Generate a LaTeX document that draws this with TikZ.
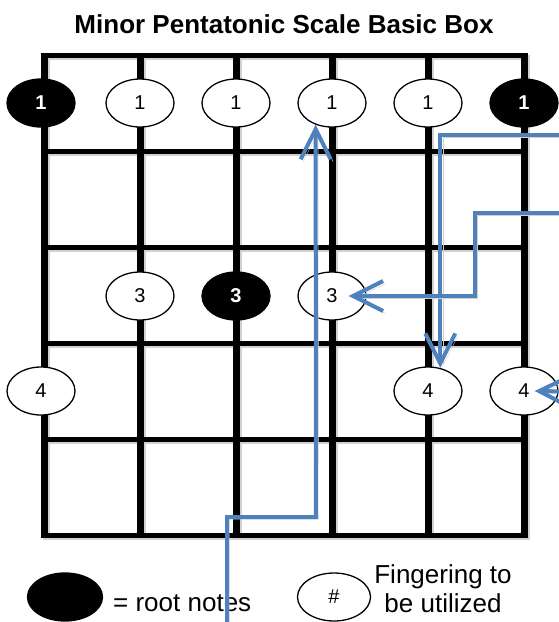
\documentclass[tikz,border=0pt]{standalone}
\usepackage{fontspec}
\setmainfont{Liberation Sans}
\usetikzlibrary{arrows.meta,shapes.geometric}
\definecolor{arrowblue}{HTML}{4F81BD}
\begin{document}
\begin{tikzpicture}[x=1pt,y=-1pt,
  note/.style={ellipse,draw=black,line width=1.3pt,fill=white,minimum width=68pt,minimum height=48pt,inner sep=0pt,font=\fontsize{20}{24}\selectfont},
  rootnote/.style={note,fill=black,text=white,font=\fontsize{20}{24}\selectfont\bfseries},
  strline/.style={line width=7pt},
  fretline/.style={line width=5pt},
  label/.style={inner sep=0pt,font=\fontsize{26}{29}\selectfont},
  guide/.style={draw=arrowblue,line width=4pt,-{Straight Barb[length=30pt,width=30pt]},
    preaction={draw=black!18,transform canvas={xshift=2.5pt,yshift=-2.5pt}}},
]
\useasboundingbox (0,0) rectangle (558,622);
\fill[white] (0,0) rectangle (558,622);

% grid shadow
\begin{scope}[draw=black!18,transform canvas={xshift=2.5pt,yshift=-2.5pt}]
  \foreach \x in {44,140,236,332,428,524} \draw[strline,black!18] (\x,52.5) -- (\x,537.5);
  \foreach \y in {55,151,247,343,439,535} \draw[fretline,black!18] (40.5,\y) -- (527.5,\y);
\end{scope}
% grid
\foreach \x in {44,140,236,332,428,524} \draw[strline] (\x,52.5) -- (\x,537.5);
\foreach \y in {55,151,247,343,439,535} \draw[fretline] (40.5,\y) -- (527.5,\y);

% title
\node[label,font=\fontsize{26}{30}\selectfont\bfseries,anchor=base] (title) at (284,33) {Minor Pentatonic Scale Basic Box};

% notes
\node[rootnote] (r1c1) at (41,103) {1};
\node[note] (r1c2) at (140,103) {1};
\node[note] (r1c3) at (236,103) {1};
\node[note] (r1c4) at (332,103) {1};
\node[note] (r1c5) at (428,103) {1};
\node[rootnote] (r1c6) at (524,103) {1};
\node[note] (r3c2) at (140,296) {3};
\node[rootnote] (r3c3) at (236,296) {3};
\node[note] (r3c4) at (332,296) {3};
\node[note] (r4c1) at (41,391) {4};
\node[note] (r4c5) at (428,391) {4};
\node[note] (r4c6) at (524,391) {4};

% legend
\node[rootnote,minimum width=75pt] (lroot) at (65,597) {};
\node[label,anchor=base west] (lroottxt) at (113,611) {= root notes};
\node[note,minimum width=73pt] (lnote) at (334,597) {\#};
\node[label,anchor=base] (lnotetxt1) at (443,583) {Fingering to};
\node[label,anchor=base] (lnotetxt2) at (443,612) {be utilized};

% arrows
\coordinate (a1s) at (227,632);
\coordinate (a1k) at (316,517);
\draw[guide] (a1s) |- (a1k) -- (r1c4.233);
\coordinate (a2s) at (600,135);
\draw[guide] (a2s) -| (r4c5.62);
\coordinate (a3s) at (600,213);
\coordinate (a3k) at (475,213);
\draw[guide] (a3s) -- (a3k) |- ([xshift=-18pt]r3c4.east);
\coordinate (a4s) at (600,392);
\draw[guide] (a4s) -- ([xshift=-24pt]r4c6.east);
\end{tikzpicture}
\end{document}
